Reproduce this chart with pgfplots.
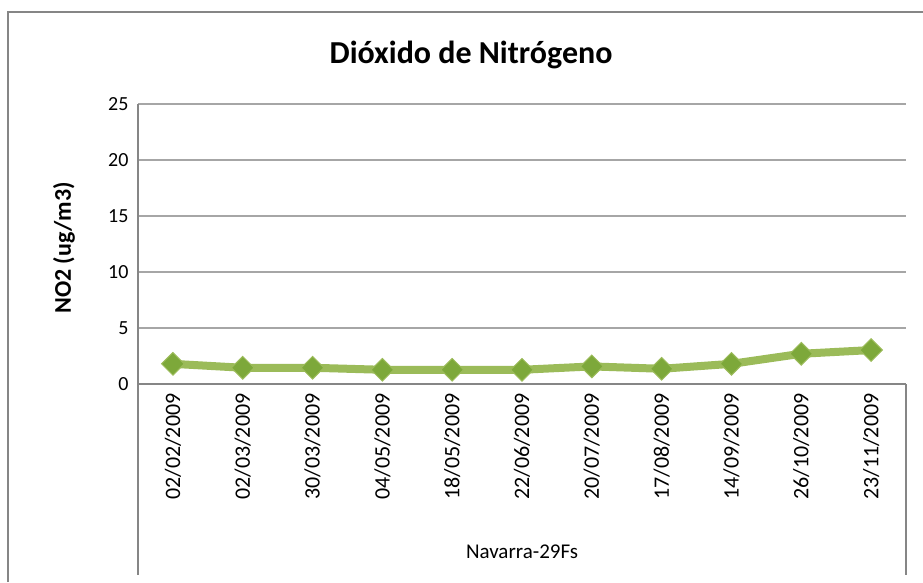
\documentclass[border=0pt]{standalone}
\usepackage{pgfplots}
\pgfplotsset{compat=1.18}
\usepackage{fontspec}
\setmainfont{Carlito}
\definecolor{lineg}{HTML}{9BBB59}
\definecolor{markg}{HTML}{7DA83A}
\definecolor{gridc}{HTML}{A6A6A6}
\definecolor{axisc}{HTML}{868686}
\begin{document}
\begin{tikzpicture}[x=1pt,y=1pt]
\useasboundingbox (0,0) rectangle (923,582);
% outer chart frame (right and bottom run off the picture)
\draw[axisc,line width=1.5pt] (8,0) -- (8,570) -- (923,570);
\node[font=\fontsize{32}{36}\selectfont\bfseries] at (471,527) {Dióxido de Nitrógeno};
\node[font=\fontsize{24}{28}\selectfont\bfseries,rotate=90] at (64,334) {NO2 (ug/m3)};
\begin{axis}[
    at={(138pt,198pt)}, anchor=south west,
    width=768pt, height=280pt, scale only axis,
    xmin=-0.5, xmax=10.5, ymin=0, ymax=25,
    ytick={0,5,10,15,20,25},
    xtick={0,...,10},
    xticklabels={02/02/2009,02/03/2009,30/03/2009,04/05/2009,18/05/2009,22/06/2009,20/07/2009,17/08/2009,14/09/2009,26/10/2009,23/11/2009},
    xticklabel style={rotate=90, anchor=east, font=\fontsize{22}{26}\selectfont, xshift=-6pt},
    yticklabel style={font=\fontsize{20}{24}\selectfont, xshift=-6pt},
    /pgf/number format/assume math mode=true,
    major tick length=0pt,
    axis line style={axisc, line width=2pt},
    axis x line*=bottom, axis y line*=left,
    ymajorgrids, grid style={gridc, line width=1.5pt},
    clip=false,
  ]
  \addplot[lineg, line width=8pt, mark=square*, mark size=8pt,
    mark options={fill=markg, draw=lineg, line width=1pt, rotate=45}]
    coordinates {(0,1.8) (1,1.45) (2,1.45) (3,1.27) (4,1.27) (5,1.27)
                 (6,1.57) (7,1.36) (8,1.8) (9,2.7) (10,3.03)};
\end{axis}
\draw[axisc,line width=1.5pt] (138,198) -- (138,7);
\draw[axisc,line width=1.5pt] (906,198) -- (906,7);
\node[font=\fontsize{21}{25}\selectfont] at (522,30) {Navarra-29Fs};
\end{tikzpicture}
\end{document}
